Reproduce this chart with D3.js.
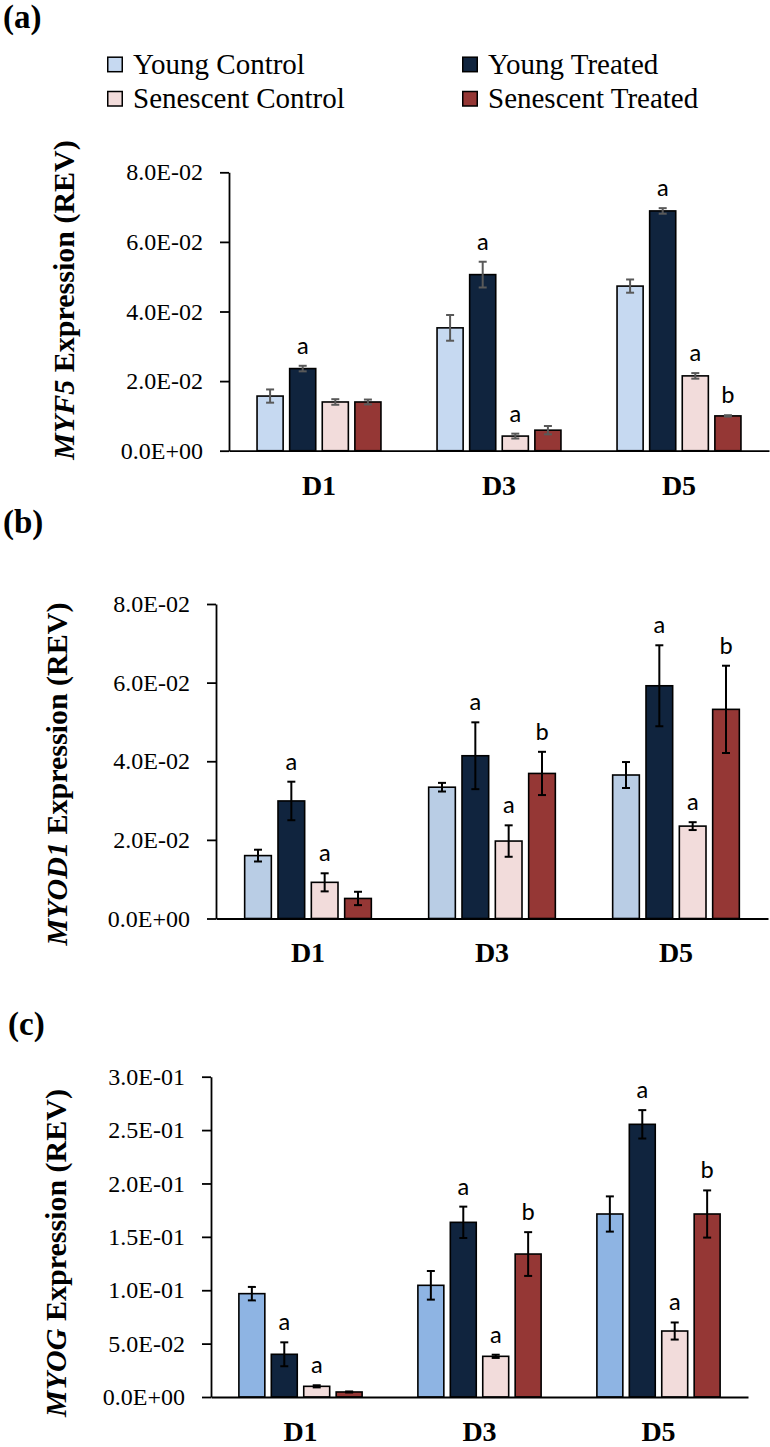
<!DOCTYPE html>
<html>
<head>
<meta charset="utf-8">
<script src="https://cdn.jsdelivr.net/npm/d3@7"></script>
<style>
  html, body { margin: 0; padding: 0; background: #fff; }
  svg { display: block; }
  .serif { font-family: "Liberation Serif", "Times New Roman", serif; }
  .sig { font-family: Calibri, "Open Sans", "Liberation Sans", sans-serif; }
</style>
</head>
<body>
<svg id="chart" width="770" height="1447"></svg>
<script>
(function () {
  'use strict';

  // Time points and groups (bar order inside each time point).
  const DAYS = ['D1', 'D3', 'D5'];
  const GROUPS = ['Young Control', 'Young Treated', 'Senescent Control', 'Senescent Treated'];

  // (a) MYF5 - means and SE, one row per day, one column per group.
  const MYF5_MEAN = [[0.0157, 0.0236, 0.0140, 0.0140], [0.0353, 0.0506, 0.0042, 0.0059], [0.0473, 0.0689, 0.0215, 0.0100]];
  const MYF5_ERR  = [[0.0019, 0.0008, 0.0008, 0.0007], [0.0037, 0.0037, 0.0007, 0.0012], [0.0019, 0.0008, 0.0008, 0.0002]];
  const MYF5_SIG  = [['', 'a', '', ''], ['', 'a', 'a', ''], ['', 'a', 'a', 'b']];
  const MYF5_TICKS = [0, 0.02, 0.04, 0.06, 0.08];

  // (b) MYOD1
  const MYOD1_MEAN = [[0.0160, 0.0299, 0.0092, 0.0051], [0.0334, 0.0414, 0.0197, 0.0369], [0.0365, 0.0592, 0.0235, 0.0532]];
  const MYOD1_ERR  = [[0.0015, 0.0049, 0.0023, 0.0017], [0.0011, 0.0085, 0.0040, 0.0055], [0.0033, 0.0103, 0.0010, 0.0111]];
  const MYOD1_SIG  = [['', 'a', 'a', ''], ['', 'a', 'a', 'b'], ['', 'a', 'a', 'b']];
  const MYOD1_TICKS = [0, 0.02, 0.04, 0.06, 0.08];

  // (c) MYOG
  const MYOG_MEAN = [[0.0968, 0.0400, 0.0100, 0.0047], [0.1046, 0.1636, 0.0381, 0.1339], [0.1714, 0.2554, 0.0618, 0.1714]];
  const MYOG_ERR  = [[0.0063, 0.0112, 0.0010, 0.0005], [0.0134, 0.0147, 0.0015, 0.0205], [0.0165, 0.0133, 0.0080, 0.0221]];
  const MYOG_SIG  = [['', 'a', 'a', ''], ['', 'a', 'a', 'b'], ['', 'a', 'a', 'b']];
  const MYOG_TICKS = [0, 0.05, 0.10, 0.15, 0.20, 0.25, 0.30];

  const NAVY = '#10243e';
  const PINK = '#f2dcdb';
  const RED = '#953735';
  const LEGEND_COLORS = ['#c6d9f1', NAVY, PINK, RED];

  // Layout per panel (pixel geometry lives here, not in the data).
  const PANELS = [
    { tag: '(a)', tagX: 3, tagY: 28, gene: 'MYF5', mean: MYF5_MEAN, err: MYF5_ERR, sig: MYF5_SIG, ticks: MYF5_TICKS,
      light: '#c6d9f1', errColor: '#595959', left: 229, right: 769, bottom: 450.7, top: 172.3, titleX: 74, titleY: 300 },
    { tag: '(b)', tagX: 3, tagY: 533, gene: 'MYOD1', mean: MYOD1_MEAN, err: MYOD1_ERR, sig: MYOD1_SIG, ticks: MYOD1_TICKS,
      light: '#b9cde5', errColor: '#000', left: 216, right: 768, bottom: 918.5, top: 604, titleX: 67, titleY: 774 },
    { tag: '(c)', tagX: 8, tagY: 1035, gene: 'MYOG', mean: MYOG_MEAN, err: MYOG_ERR, sig: MYOG_SIG, ticks: MYOG_TICKS,
      light: '#8eb4e3', errColor: '#000', left: 211, right: 748, bottom: 1397, top: 1076.7, titleX: 66, titleY: 1253 }
  ];

  function fmtExp(v) {
    if (Math.abs(v) < 1e-12) return '0.0E+00';
    const e = Math.floor(Math.log10(v) + 1e-9);
    const m = v / Math.pow(10, e);
    return m.toFixed(1) + 'E' + (e < 0 ? '-' : '+') + String(Math.abs(e)).padStart(2, '0');
  }

  const svg = d3.select('#chart');
  svg.append('rect').attr('width', 770).attr('height', 1447).attr('fill', '#fff');

  // Legend
  const legend = svg.append('g').attr('class', 'legend');
  GROUPS.forEach((name, i) => {
    const col = i % 2 === 0 ? 0 : 1;
    const row = i < 2 ? 0 : 1;
    const lx = col === 0 ? 107 : 462;
    const cy = row === 0 ? 64.7 : 99;
    legend.append('rect')
      .attr('x', lx + 0.75).attr('y', cy - 7.5)
      .attr('width', 14.5).attr('height', 14.5)
      .attr('fill', LEGEND_COLORS[i])
      .attr('stroke', '#000').attr('stroke-width', 1.5);
    legend.append('text')
      .attr('class', 'serif')
      .attr('x', lx + 26).attr('y', cy + 9)
      .attr('font-size', 29)
      .attr('fill', '#000')
      .text(name);
  });

  PANELS.forEach((p) => {
    const colors = [p.light, NAVY, PINK, RED];
    const g = svg.append('g');

    g.append('text')
      .attr('class', 'serif')
      .attr('x', p.tagX).attr('y', p.tagY)
      .attr('font-size', 33).attr('font-weight', 'bold')
      .text(p.tag);

    const x = d3.scaleBand().domain(DAYS).range([p.left, p.right]).padding(0);
    const xi = d3.scaleBand().domain(GROUPS).range([0, x.bandwidth()])
      .paddingInner(0.2).paddingOuter(0.86);
    const y = d3.scaleLinear().domain([0, d3.max(p.ticks)]).range([p.bottom, p.top]);

    // Bars
    DAYS.forEach((day, di) => {
      GROUPS.forEach((grp, gi) => {
        const v = p.mean[di][gi];
        const e = p.err[di][gi];
        const bx = x(day) + xi(grp);
        const bw = xi.bandwidth();
        const cx = bx + bw / 2;

        g.append('rect')
          .attr('x', bx).attr('y', y(v))
          .attr('width', bw).attr('height', y(0) - y(v))
          .attr('fill', colors[gi])
          .attr('stroke', '#000').attr('stroke-width', 1.6);

        const eb = g.append('g')
          .attr('stroke', p.errColor).attr('stroke-width', 2).attr('fill', 'none');
        eb.append('line').attr('x1', cx).attr('x2', cx).attr('y1', y(v - e)).attr('y2', y(v + e));
        eb.append('line').attr('x1', cx - 4).attr('x2', cx + 4).attr('y1', y(v + e)).attr('y2', y(v + e));
        eb.append('line').attr('x1', cx - 4).attr('x2', cx + 4).attr('y1', y(v - e)).attr('y2', y(v - e));

        const s = p.sig[di][gi];
        if (s) {
          g.append('text')
            .attr('class', 'sig')
            .attr('x', cx).attr('y', y(v + e) - 12)
            .attr('text-anchor', 'middle')
            .attr('font-size', 25)
            .attr('fill', '#000')
            .text(s);
        }
      });
    });

    // Y axis
    const yAxis = g.append('g')
      .attr('transform', `translate(${p.left},0)`)
      .call(d3.axisLeft(y).tickValues(p.ticks).tickFormat(fmtExp).tickSize(9).tickSizeOuter(0).tickPadding(17));
    yAxis.selectAll('path, line').attr('stroke', '#000').attr('stroke-width', 1.8);
    yAxis.selectAll('text')
      .attr('class', 'serif')
      .attr('font-size', 24)
      .attr('fill', '#000');

    // X axis
    const xAxis = g.append('g')
      .attr('transform', `translate(0,${p.bottom})`)
      .call(d3.axisBottom(x).tickSize(0).tickSizeOuter(0).tickPadding(24));
    xAxis.select('path').attr('stroke', '#000').attr('stroke-width', 1.8);
    xAxis.selectAll('text')
      .attr('class', 'serif')
      .attr('font-size', 28).attr('font-weight', 'bold')
      .attr('fill', '#000');

    // Y title
    const title = g.append('text')
      .attr('class', 'serif')
      .attr('transform', `translate(${p.titleX},${p.titleY}) rotate(-90)`)
      .attr('text-anchor', 'middle')
      .attr('font-size', 30).attr('font-weight', 'bold')
      .attr('fill', '#000');
    title.append('tspan').attr('font-style', 'italic').text(p.gene);
    title.append('tspan').text(' Expression (REV)');
  });
})();
</script>
</body>
</html>
